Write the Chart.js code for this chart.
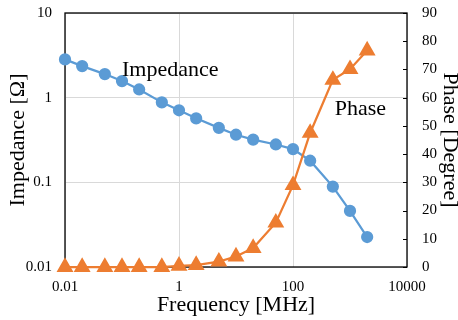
<!DOCTYPE html>
<html>
<head>
<meta charset="utf-8">
<script src="https://cdn.jsdelivr.net/npm/chart.js@4.4.1/dist/chart.umd.min.js"></script>
<style>
  html, body { margin: 0; padding: 0; background: #fff; }
  #wrap { width: 458px; height: 320px; }
</style>
</head>
<body>
<div id="wrap"><canvas id="chart"></canvas></div>
<script>
const frequency = [0.01, 0.02, 0.05, 0.1, 0.2, 0.5, 1, 2, 5, 10, 20, 50, 100, 200, 500, 1000, 2000];
const impedance = [2.83, 2.36, 1.9, 1.57, 1.25, 0.88, 0.71, 0.57, 0.44, 0.365, 0.32, 0.28, 0.247, 0.18, 0.089, 0.046, 0.0226];
const phase = [0, 0, 0, 0, 0, 0, 0.4, 0.7, 1.9, 3.7, 6.7, 15.7, 29, 47.5, 66.3, 70.1, 76.7];

const xTicks = [0.01, 1, 100, 10000];
const yTicks = [0.01, 0.1, 1, 10];

const BLUE = "#5B9BD5";
const ORANGE = "#ED7D31";
const SERIF = "'Liberation Serif', 'Times New Roman', serif";

// text labels placed next to the curves
const seriesLabels = [
  { text: "Impedance", x: 0.1, y: 1.8, axis: "y" },
  { text: "Phase", x: 540, y: 53.9, axis: "y2" }
];

const frameAndLabels = {
  id: "frameAndLabels",
  beforeDatasetsDraw(chart) {
    const { ctx, chartArea: a, scales } = chart;
    ctx.save();
    ctx.strokeStyle = "#000";
    // inward tick marks on the right axis
    ctx.lineWidth = 1;
    scales.y2.ticks.forEach(t => {
      const py = Math.round(scales.y2.getPixelForValue(t.value)) + 0.5;
      ctx.beginPath();
      ctx.moveTo(a.right - 4, py);
      ctx.lineTo(a.right, py);
      ctx.stroke();
    });
    ctx.lineWidth = 1.3;
    ctx.strokeRect(a.left, a.top, a.right - a.left, a.bottom - a.top);
    ctx.restore();
  },
  afterDatasetsDraw(chart) {
    const { ctx, scales } = chart;
    ctx.save();
    ctx.fillStyle = "#000";
    ctx.font = "22px " + SERIF;
    ctx.textAlign = "left";
    ctx.textBaseline = "alphabetic";
    seriesLabels.forEach(l => {
      ctx.fillText(l.text, scales.x.getPixelForValue(l.x), scales[l.axis].getPixelForValue(l.y));
    });
    ctx.restore();
  }
};

const toPoints = (xs, ys) => xs.map((x, i) => ({ x: x, y: ys[i] }));

const fitVertical = (width) => (scale) => {
  scale.width = width;
  scale.paddingTop = 0;
  scale.paddingBottom = 0;
};

new Chart(document.getElementById("chart"), {
  type: "scatter",
  data: {
    datasets: [
      {
        label: "Impedance",
        data: toPoints(frequency, impedance),
        yAxisID: "y",
        showLine: true,
        clip: false,
        borderColor: BLUE,
        backgroundColor: BLUE,
        borderWidth: 2.25,
        pointStyle: "circle",
        pointRadius: 5,
        order: 2
      },
      {
        label: "Phase",
        data: toPoints(frequency, phase),
        yAxisID: "y2",
        showLine: true,
        clip: false,
        borderColor: ORANGE,
        backgroundColor: ORANGE,
        borderWidth: 2.25,
        pointStyle: "triangle",
        pointRadius: 7.5,
        order: 1
      }
    ]
  },
  plugins: [frameAndLabels],
  options: {
    responsive: true,
    maintainAspectRatio: false,
    animation: false,
    layout: { padding: { left: 0, right: 0, top: 13, bottom: 0 } },
    plugins: {
      legend: { display: false },
      tooltip: { enabled: false }
    },
    scales: {
      x: {
        type: "logarithmic",
        min: 0.01,
        max: 10000,
        afterBuildTicks: (scale) => { scale.ticks = xTicks.map(v => ({ value: v })); },
        afterFit: (scale) => { scale.height = 53; scale.paddingLeft = 0; scale.paddingRight = 0; },
        ticks: {
          color: "#000",
          font: { family: SERIF, size: 15 },
          padding: 11,
          maxRotation: 0,
          callback: (v) => String(v)
        },
        grid: { color: "#d9d9d9", lineWidth: 1, drawTicks: false },
        border: { display: false },
        title: {
          display: true,
          text: "Frequency [MHz]",
          color: "#000",
          font: { family: SERIF, size: 22, lineHeight: 1 },
          padding: { top: 0, bottom: 4 }
        }
      },
      y: {
        type: "logarithmic",
        position: "left",
        min: 0.01,
        max: 10,
        afterBuildTicks: (scale) => { scale.ticks = yTicks.map(v => ({ value: v })); },
        afterFit: fitVertical(65),
        ticks: {
          color: "#000",
          font: { family: SERIF, size: 15 },
          padding: 13,
          callback: (v) => String(v)
        },
        grid: { color: "#d9d9d9", lineWidth: 1, drawTicks: false },
        border: { display: false },
        title: {
          display: true,
          text: "Impedance [Ω]",
          color: "#000",
          font: { family: SERIF, size: 22, lineHeight: 1 },
          padding: { top: 7, bottom: 0 }
        }
      },
      y2: {
        type: "linear",
        position: "right",
        min: 0,
        max: 90,
        afterFit: fitVertical(51),
        ticks: {
          stepSize: 10,
          color: "#000",
          font: { family: SERIF, size: 15 },
          padding: 15
        },
        grid: { drawOnChartArea: false, drawTicks: false },
        border: { display: false },
        title: {
          display: true,
          text: "Phase [Degree]",
          color: "#000",
          font: { family: SERIF, size: 22, lineHeight: 1 },
          padding: { top: -3, bottom: 0 }
        }
      }
    }
  }
});
</script>
</body>
</html>
